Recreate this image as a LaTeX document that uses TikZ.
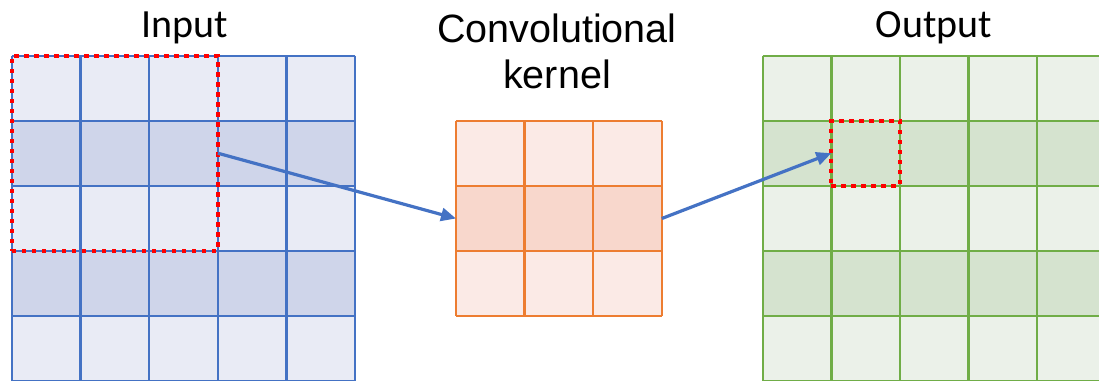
\documentclass[tikz,border=0pt]{standalone}
\usepackage{fontspec}
\setmainfont{Liberation Sans}
\newfontfamily\titlefont{Carlito}
\usetikzlibrary{arrows.meta}
\definecolor{inblue}{HTML}{4472C4}
\definecolor{inlight}{HTML}{E9EBF5}
\definecolor{indark}{HTML}{CFD5EA}
\definecolor{kerorange}{HTML}{ED7D31}
\definecolor{kerlight}{HTML}{FBEAE6}
\definecolor{kerdark}{HTML}{F8D7CC}
\definecolor{outgreen}{HTML}{70AD47}
\definecolor{outlight}{HTML}{EBF1E9}
\definecolor{outdark}{HTML}{D5E3CF}
\begin{document}
\begin{tikzpicture}[x=1pt,y=-1pt,
    window/.style={draw=red, line width=4.2pt, dash pattern=on 4.2pt off 5.8pt,
                   inner sep=0pt, outer sep=0pt},
    slide/.style={-{Triangle[length=15pt,width=13pt]}, draw=inblue, line width=3.2pt},
    gridline/.style={line width=2.4pt}]
\useasboundingbox (0,0) rectangle (1099,380);
\clip (0,0) rectangle (1099,380);
%
% Titres
\node (intitle) [anchor=base, font=\titlefont\fontsize{40}{46}\selectfont] at (185,37) {Input};
\node (kertitle) [anchor=base, align=center, font=\fontsize{39.5}{46}\selectfont] at (557,88) {Convolutional\\kernel};
\node (outtitle) [anchor=base, font=\titlefont\fontsize{40}{46}\selectfont] at (934,37) {Output};
%
% Input (5x5)
\fill [inlight] (12,55.7) rectangle ++(343,325);
\foreach \y in {120.7,250.7} \fill [indark] (12,\y) rectangle ++(343,65);
\foreach \i in {0,...,5} \draw [inblue, gridline] (12+68.6*\i,55.7) -- ++(0,325);
\foreach \i in {0,...,5} \draw [inblue, gridline] (12,55.7+65*\i) -- ++(343,0);
%
% Noyau (3x3)
\fill [kerlight] (456,121) rectangle ++(205.8,195);
\fill [kerdark] (456,186) rectangle ++(205.8,65);
\foreach \i in {0,...,3} \draw [kerorange, gridline] (456+68.6*\i,121) -- ++(0,195);
\foreach \i in {0,...,3} \draw [kerorange, gridline] (456,121+65*\i) -- ++(205.8,0);
\node (kernel) [inner sep=0pt, outer sep=0pt, minimum width=205.8pt, minimum height=195pt]
      at (558.9,218.5) {};
%
% Output (5x5)
\fill [outlight] (762.7,55.7) rectangle ++(343,325);
\foreach \y in {120.7,250.7} \fill [outdark] (762.7,\y) rectangle ++(343,65);
\foreach \i in {0,...,5} \draw [outgreen, gridline] (762.7+68.6*\i,55.7) -- ++(0,325);
\foreach \i in {0,...,5} \draw [outgreen, gridline] (762.7,55.7+65*\i) -- ++(343,0);
%
% Fenetres
\node (inwin) [window, minimum width=205.8pt, minimum height=195pt] at (114.9,153.2) {};
\node (outcell) [window, minimum width=68.6pt, minimum height=65pt] at (865.6,153.2) {};
%
% Fleches
\draw [slide] (inwin.east) -- (kernel.west);
\draw [slide] (kernel.east) -- (outcell.west);
%
\end{tikzpicture}
\end{document}
